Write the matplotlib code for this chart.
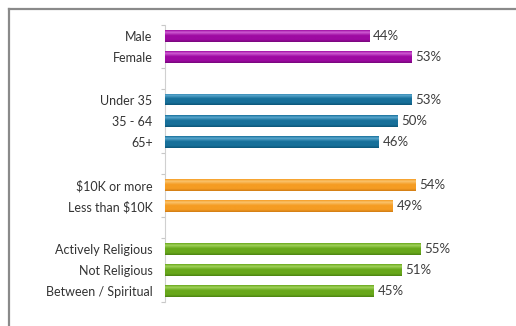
import matplotlib.pyplot as plt
from matplotlib.lines import Line2D
from matplotlib.colors import LinearSegmentedColormap
import numpy as np

plt.rcParams['font.family'] = ['Lato', 'DejaVu Sans']

# data, top to bottom; None marks the blank rows between groups
labels = ['Male', 'Female', None,
          'Under 35', '35 - 64', '65+', None,
          '$10K or more', 'Less than $10K', None,
          'Actively Religious', 'Not Religious', 'Between / Spiritual']
values = [44, 53, None, 53, 50, 46, None, 54, 49, None, 55, 51, 45]
groups = [0, 0, None, 1, 1, 1, None, 2, 2, None, 3, 3, 3]

base_cols = ['#9E0AA2', '#17709A', '#F59C22', '#68A81B']
light_cols = ['#D05ED4', '#5BA8CF', '#FAC46E', '#A2D25C']
dark_cols = ['#76077A', '#0D5578', '#D07C14', '#4B8212']

fig = plt.figure(figsize=(5.16, 3.26), dpi=100)
ax = fig.add_axes([0.32, 0.074, 0.63, 0.849])

n = len(labels)
ypos = np.arange(n)
h = 0.55
grad = np.linspace(0, 1, 64).reshape(-1, 1)
for i in range(n):
    if values[i] is None:
        continue
    g = groups[i]
    cmap = LinearSegmentedColormap.from_list(
        f'g{i}', [(0, base_cols[g]), (0.18, light_cols[g]), (0.45, base_cols[g]),
                  (0.8, base_cols[g]), (1, dark_cols[g])])
    bar = ax.barh(ypos[i], values[i], height=h, color=base_cols[g], edgecolor='none', zorder=2)[0]
    im = ax.imshow(grad, cmap=cmap, aspect='auto', zorder=3, interpolation='bilinear',
                   extent=[0, values[i], ypos[i] + h / 2, ypos[i] - h / 2])
    im.set_clip_path(bar)
    ax.text(values[i] + 0.8, ypos[i], f'{values[i]}%', va='center', ha='left',
            fontsize=9.5, color='#3c3c3c')

ax.set_ylim(n - 0.5, -0.5)
ax.set_xlim(0, 70)

ax.set_yticks([y for y, l in zip(ypos, labels) if l is not None])
ax.set_yticklabels([l for l in labels if l is not None], fontsize=9, color='#333333')
ax.tick_params(axis='y', length=0, pad=9)
ax.set_yticks([-0.5, 1.5, 2.5, 5.5, 6.5, 8.5, 9.5, 12.5], minor=True)
ax.tick_params(axis='y', which='minor', length=3, color='#c8c8c8', width=0.8)
ax.set_xticks([])

for s in ['top', 'right', 'bottom']:
    ax.spines[s].set_visible(False)
ax.spines['left'].set_color('#d0d0d0')
ax.spines['left'].set_linewidth(0.8)

# outer frame (only top and left edges show in the crop)
fig.add_artist(Line2D([9 / 516, 9 / 516], [0, 1 - 9 / 326], transform=fig.transFigure,
                      color='#8a8a8a', lw=1.6))
fig.add_artist(Line2D([9 / 516, 1], [1 - 9 / 326, 1 - 9 / 326], transform=fig.transFigure,
                      color='#8a8a8a', lw=1.6))

fig.savefig('out.png', dpi=100)
